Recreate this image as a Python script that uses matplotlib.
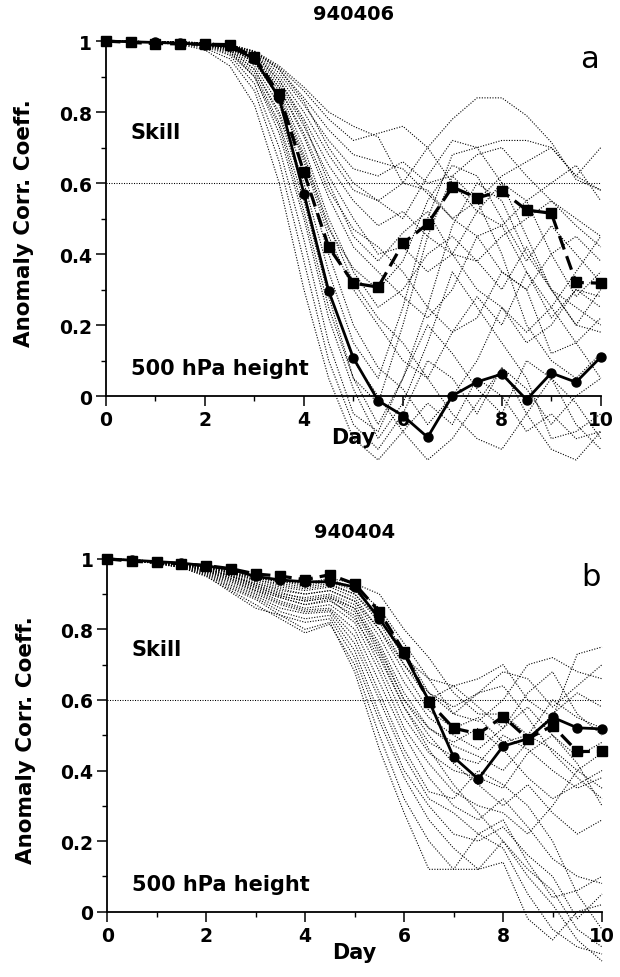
"""Ensemble forecast skill (500 hPa ACC) for two cases, 940406 and 940404."""
import matplotlib

matplotlib.use("Agg")
import matplotlib.pyplot as plt
from matplotlib.ticker import MultipleLocator

# forecast day, every 12 h
days = [0, 0.5, 1, 1.5, 2, 2.5, 3, 3.5, 4, 4.5, 5, 5.5, 6, 6.5, 7, 7.5, 8, 8.5, 9, 9.5, 10]

# ---- case a: 940406 ----
a_control = [1.0, .996, .993, .992, .991, .99, .955, .85, .63, .42, .318, .307, .43, .485, .589, .558, .578, .524, .515, .32, .318]
a_mean = [1.0, .998, .996, .994, .99, .985, .95, .84, .57, .296, .107, -.013, -.055, -.116, .001, .04, .062, -.01, .065, .039, .11]
a_members = [
    [1, .998, .995, .99, .975, .93, .82, .60, .30, .05, -.12, -.18, -.10, -.02, -.08, .05, .00, -.10, -.05, -.12, -.10],
    [1, .998, .996, .992, .98, .95, .86, .66, .38, .10, -.08, -.15, -.05, .10, .05, -.05, .08, .02, -.08, .00, .05],
    [1, .999, .996, .993, .985, .96, .88, .70, .44, .15, -.05, -.10, .05, .20, .12, .02, -.05, .10, .05, -.02, -.12],
    [1, .999, .997, .994, .987, .965, .90, .74, .50, .22, .02, -.12, -.02, .15, .35, .25, .15, .05, -.12, -.10, -.05],
    [1, .999, .997, .995, .99, .97, .91, .77, .55, .28, .05, -.02, .20, .45, .62, .55, .40, .20, .10, .05, .12],
    [1, .999, .997, .995, .99, .975, .92, .80, .60, .35, .15, .05, .25, .50, .68, .70, .60, .45, .30, .25, .20],
    [1, .999, .998, .996, .99, .978, .93, .82, .63, .40, .20, .08, .02, -.08, .00, .10, .25, .15, .20, .30, .25],
    [1, .999, .998, .996, .991, .98, .94, .84, .66, .45, .30, .20, .10, .05, .18, .28, .20, .35, .25, .15, .05],
    [1, .999, .998, .996, .992, .982, .945, .86, .70, .50, .35, .25, .30, .40, .45, .38, .30, .42, .30, .20, .18],
    [1, .999, .998, .997, .993, .984, .95, .87, .73, .56, .42, .35, .28, .22, .30, .45, .48, .35, .22, .30, .28],
    [1, .999, .998, .997, .993, .985, .955, .88, .76, .62, .50, .40, .42, .35, .40, .52, .60, .55, .40, .28, .35],
    [1, .999, .998, .997, .994, .986, .96, .89, .78, .65, .55, .48, .52, .45, .40, .38, .45, .50, .55, .48, .42],
    [1, .999, .998, .997, .994, .987, .962, .90, .80, .68, .58, .55, .60, .58, .50, .45, .35, .30, .40, .45, .38],
    [1, .999, .998, .997, .995, .988, .965, .91, .82, .72, .64, .62, .66, .60, .62, .68, .70, .62, .55, .50, .45],
    [1, .999, .998, .997, .995, .989, .968, .92, .84, .75, .68, .66, .64, .57, .50, .55, .62, .66, .70, .62, .58],
    [1, .999, .998, .997, .995, .99, .97, .925, .86, .78, .72, .74, .76, .70, .60, .52, .48, .55, .60, .65, .55],
    [1, .999, .998, .997, .995, .99, .972, .93, .87, .80, .76, .73, .60, .70, .78, .84, .84, .79, .715, .61, .58],
    [1, .999, .998, .997, .995, .99, .97, .92, .83, .70, .60, .55, .50, .62, .72, .70, .72, .72, .70, .62, .70],
    [1, .999, .998, .997, .994, .987, .96, .89, .77, .60, .45, .38, .46, .52, .40, .30, .25, .18, .25, .35, .45],
    [1, .999, .998, .996, .992, .982, .94, .85, .68, .48, .32, .22, .15, .05, -.05, -.12, -.15, -.05, .05, -.08, -.15],
    [1, .999, .997, .995, .99, .975, .92, .79, .58, .30, .10, .00, -.10, -.18, -.12, -.02, .08, -.05, -.15, -.18, -.10],
    [1, .999, .997, .994, .988, .97, .90, .76, .52, .25, .05, -.08, .05, .25, .48, .60, .55, .40, .30, .20, .30],
    [1, .999, .998, .996, .992, .98, .94, .84, .67, .47, .36, .30, .38, .55, .65, .62, .50, .38, .48, .40, .32],
    [1, .999, .998, .997, .993, .984, .95, .87, .74, .58, .47, .42, .35, .25, .18, .22, .35, .30, .12, .15, .22],
]

# ---- case b: 940404 ----
b_control = [1.0, .993, .99, .986, .981, .972, .957, .951, .941, .955, .929, .85, .736, .595, .52, .504, .553, .49, .527, .454, .454]
b_mean = [1.0, .996, .992, .988, .98, .97, .95, .94, .935, .935, .92, .83, .73, .598, .438, .376, .469, .49, .551, .521, .518]
b_members = [
    [1, .997, .993, .988, .978, .965, .95, .94, .93, .94, .92, .86, .76, .66, .56, .54, .60, .70, .72, .68, .66],
    [1, .997, .993, .988, .978, .963, .945, .935, .925, .935, .91, .84, .74, .62, .58, .62, .68, .66, .58, .64, .70],
    [1, .997, .993, .987, .976, .96, .94, .93, .92, .93, .90, .82, .70, .60, .64, .66, .70, .60, .55, .73, .75],
    [1, .997, .992, .986, .975, .958, .935, .92, .91, .92, .89, .80, .68, .57, .52, .55, .48, .50, .60, .55, .52],
    [1, .996, .992, .986, .974, .955, .93, .91, .90, .91, .88, .78, .65, .55, .50, .46, .52, .58, .50, .44, .48],
    [1, .996, .991, .985, .972, .952, .925, .90, .89, .90, .87, .76, .62, .52, .47, .44, .40, .48, .56, .62, .58],
    [1, .996, .991, .984, .97, .95, .92, .895, .88, .89, .85, .73, .58, .48, .44, .42, .50, .46, .40, .35, .38],
    [1, .996, .99, .983, .968, .945, .915, .89, .87, .88, .84, .70, .55, .45, .40, .38, .35, .45, .50, .42, .30],
    [1, .996, .99, .982, .966, .94, .91, .88, .86, .87, .82, .68, .52, .42, .34, .30, .28, .22, .30, .40, .45],
    [1, .996, .99, .98, .964, .935, .905, .875, .855, .86, .80, .65, .50, .38, .30, .26, .32, .24, .15, .10, .08],
    [1, .995, .989, .98, .962, .93, .90, .87, .85, .855, .78, .62, .46, .34, .32, .40, .36, .30, .20, .05, -.05],
    [1, .995, .988, .978, .96, .925, .895, .86, .845, .85, .76, .60, .44, .32, .28, .22, .18, .05, -.05, -.10, -.12],
    [1, .995, .988, .977, .958, .92, .89, .85, .83, .84, .74, .56, .40, .30, .22, .20, .24, .16, .10, -.02, .05],
    [1, .995, .987, .976, .955, .915, .885, .84, .82, .83, .72, .54, .38, .26, .18, .12, .14, -.02, -.08, .00, .02],
    [1, .995, .986, .975, .95, .91, .87, .83, .79, .815, .70, .50, .32, .20, .12, .12, .20, .10, .02, -.08, -.14],
    [1, .995, .987, .975, .952, .905, .86, .84, .80, .82, .68, .46, .28, .12, .12, .22, .26, .14, .04, .06, .10],
    [1, .996, .99, .982, .965, .94, .91, .89, .87, .885, .83, .72, .58, .46, .36, .28, .20, .12, .06, -.05, -.10],
    [1, .996, .991, .984, .97, .95, .93, .915, .90, .91, .88, .80, .70, .62, .56, .62, .64, .55, .45, .38, .32],
    [1, .997, .992, .986, .975, .96, .94, .925, .915, .925, .90, .83, .72, .66, .64, .58, .52, .62, .68, .56, .50],
    [1, .996, .99, .983, .968, .945, .92, .895, .88, .89, .86, .75, .60, .50, .42, .36, .30, .36, .28, .22, .26],
    [1, .997, .993, .987, .976, .962, .945, .935, .93, .945, .93, .90, .80, .72, .62, .56, .56, .50, .46, .40, .35],
    [1, .996, .991, .985, .972, .952, .925, .905, .885, .895, .86, .74, .60, .52, .48, .52, .46, .38, .32, .36, .40],
]

DOTS = (0, (1, 1.4))


def _draw_panel(ax, members, control, mean, date, letter):
    """Spaghetti of ensemble members + control (dashed/squares) + mean (solid/circles)."""
    for m in members:
        ax.plot(days, m, color="black", linestyle=DOTS, linewidth=0.8, clip_on=False, zorder=2)
    ax.axhline(0.6, color="black", linestyle=DOTS, linewidth=0.75, zorder=1)
    ax.plot(days, control, color="black", linestyle=(0, (4.5, 2.2)), linewidth=2.3,
            marker="s", markersize=6.5, clip_on=False, zorder=4)
    ax.plot(days, mean, color="black", linestyle="-", linewidth=2.0,
            marker="o", markersize=6.5, clip_on=False, zorder=5)

    ax.set_xlim(0, 10)
    ax.set_ylim(0, 1)
    ax.xaxis.set_major_locator(MultipleLocator(2))
    ax.xaxis.set_minor_locator(MultipleLocator(1))
    ax.yaxis.set_minor_locator(MultipleLocator(0.1))
    ax.set_yticks([0, 0.2, 0.4, 0.6, 0.8, 1.0])
    ax.set_yticklabels(["0", "0.2", "0.4", "0.6", "0.8", "1"])
    ax.tick_params(which="major", length=7, width=1.1, labelsize=13.5, pad=3)
    ax.tick_params(which="minor", length=3.5, width=1.0)
    for lab in ax.get_xticklabels() + ax.get_yticklabels():
        lab.set_fontweight("bold")
    for side in ("top", "right"):
        ax.spines[side].set_visible(False)
    for side in ("left", "bottom"):
        ax.spines[side].set_linewidth(1.3)
        ax.spines[side].set_zorder(6)

    ax.set_ylabel("Anomaly Corr. Coeff.", fontsize=15.5, fontweight="bold")
    ax.yaxis.set_label_coords(-0.145, 0.49)
    ax.text(0.5, -0.115, "Day", transform=ax.transAxes, ha="center", va="center",
            fontsize=15, fontweight="bold")
    ax.text(0.5, 1.077, date, transform=ax.transAxes, ha="center", va="center",
            fontsize=14, fontweight="bold")
    ax.text(0.49, 0.745, "Skill", ha="left", va="center", fontsize=15, fontweight="bold")
    ax.text(0.5, 0.079, "500 hPa height", ha="left", va="center", fontsize=15, fontweight="bold")
    ax.text(9.78, 0.95, letter, ha="center", va="center", fontsize=22)


fig = plt.figure(figsize=(6.2, 9.78), dpi=100)
ax_a = fig.add_axes([0.171, 0.594, 0.798, 0.363])
ax_b = fig.add_axes([0.173, 0.0668, 0.798, 0.3608])

_draw_panel(ax_a, a_members, a_control, a_mean, "940406", "a")
_draw_panel(ax_b, b_members, b_control, b_mean, "940404", "b")

fig.savefig("out.png", dpi=100)
plt.close(fig)
